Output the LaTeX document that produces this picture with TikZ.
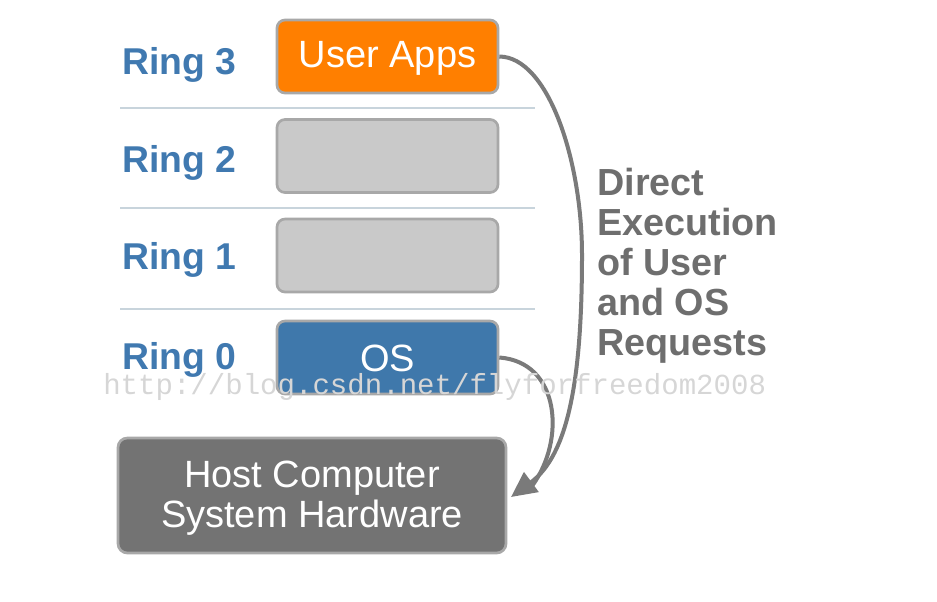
\documentclass[tikz,border=0pt]{standalone}
\usepackage{fontspec}
\setmainfont{Liberation Sans}
\newfontfamily\wmfont{Liberation Mono}
\usetikzlibrary{arrows.meta}
\definecolor{ringblue}{HTML}{4079B0}
\definecolor{appsorange}{HTML}{FF7F00}
\definecolor{osblue}{HTML}{3F78AB}
\definecolor{lightbox}{HTML}{C9C9C9}
\definecolor{darkbox}{HTML}{737373}
\definecolor{boxborder}{HTML}{A8A8A8}
\definecolor{sepline}{HTML}{C8D4DC}
\definecolor{arrowgray}{HTML}{7A7A7A}
\definecolor{textgray}{HTML}{6E6E6E}
\definecolor{wmgray}{HTML}{D6D6D6}
\tikzset{
  ringlabel/.style={anchor=base west, inner sep=0pt, text=ringblue, font=\fontsize{28}{30}\selectfont\bfseries},
  ringbox/.style={draw=boxborder, line width=2pt, rounded corners=6pt, minimum width=165.75pt, minimum height=54.75pt, inner sep=0pt, text=white, font=\fontsize{28.5}{30}\selectfont},
  sepstyle/.style={draw=sepline, line width=1pt},
  flow/.style={draw=arrowgray, line width=3pt}
}
\begin{document}
\begin{tikzpicture}[x=0.75pt,y=-0.75pt]
\useasboundingbox (0,0) rectangle (937,601);
% separators
\coordinate (s3a) at (120,108); \coordinate (s3b) at (535,108);
\coordinate (s2a) at (120,208); \coordinate (s2b) at (535,208);
\coordinate (s1a) at (120,309); \coordinate (s1b) at (535,309);
\draw[sepstyle] (s3a) -- (s3b);
\draw[sepstyle] (s2a) -- (s2b);
\draw[sepstyle] (s1a) -- (s1b);
% ring labels
\node[ringlabel] (r3) at (122,74) {Ring 3};
\node[ringlabel] (r2) at (122,172) {Ring 2};
\node[ringlabel] (r1) at (122,269) {Ring 1};
\node[ringlabel] (r0) at (122,369) {Ring 0};
% boxes
\node[ringbox, fill=appsorange] (apps) at (387.5,56.5) {};
\node[text=white, inner sep=0pt, font=\fontsize{28.5}{30}\selectfont] (appstext) at (387.5,58.5) {User Apps};
\node[ringbox, fill=lightbox] (b2) at (387.5,156) {};
\node[ringbox, fill=lightbox] (b1) at (387.5,255.5) {};
\node[ringbox, fill=osblue] (os) at (387.5,357.5) {};
\node[text=white, inner sep=0pt, font=\fontsize{28.5}{30}\selectfont] (ostext) at (387.5,358.5) {OS};
\node[draw=boxborder, line width=2pt, rounded corners=7pt, fill=darkbox, minimum width=291pt, minimum height=86.25pt, inner sep=0pt] (host) at (312,495.5) {};
\node[text=white, inner sep=0pt, align=center, font=\fontsize{28.5}{30}\selectfont] (hosttext) at (312,498.5) {Host Computer\\System Hardware};
% side text
\node[anchor=north west, inner sep=0pt, align=left, text=textgray, font=\fontsize{28.3}{30}\selectfont\bfseries] (direct) at (597,168) {Direct\\Execution\\of User\\and OS\\Requests};
% arrows
\coordinate (tip) at (511,497);
\coordinate (mid) at (582,255);
\coordinate (join) at (532,486);
\draw[flow] (apps.east) .. controls (548,57) and (582,160) .. (mid);
\draw[flow, -{Triangle[length=19pt,width=18pt]}] (mid) .. controls (582,380) and (568,455) .. (tip);
\draw[flow] (os.east) .. controls (560,362) and (566,440) .. (join);
% watermark
\node[anchor=base west, inner sep=0pt, text=wmgray, font=\wmfont\fontsize{21.8}{24}\selectfont] (wm) at (103,394) {http://blog.csdn.net/flyforfreedom2008};
\end{tikzpicture}
\end{document}
